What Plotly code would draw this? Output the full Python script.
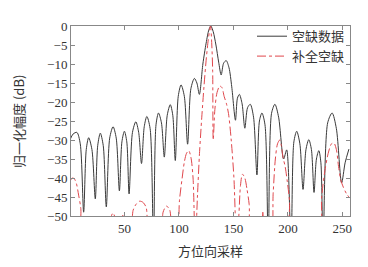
import plotly.graph_objects as go

# 空缺数据 (black solid)
gap_x = [0, 3, 6.4, 9.5, 12.6,
         15, 17.2, 20.2, 23.3,
         25.5, 27.9, 30.6, 33.4,
         36.5, 39.6, 42.5, 45.4,
         47.7, 50, 52.2, 54.3,
         57.4, 60.5, 63.1, 65.7,
         68.2, 70.6, 73.6, 76.7,
         79, 81.3, 84, 86.6,
         89.3, 92.1, 94.4, 96.7,
         99.4, 102, 105, 108,
         111, 114.2, 116.5, 118.8,
         122, 125, 127.5, 129.3, 131.5, 134, 136.5, 138.8,
         141, 143.4, 146, 148.5, 151.9,
         153.7, 155.5, 158, 160.5,
         163, 165.5, 168.5, 171.6,
         173.9, 176.2, 179, 182,
         185, 188.1, 191.5, 196.1,
         198.9, 202.9,
         205.5, 208.1, 211, 213.9,
         216.6, 219.2, 221.6, 224,
         226.2, 228.4, 230.3, 232.3,
         236.5, 240.6, 244.5, 249.3,
         252.5, 256]
gap_y = [-30, -28.4, -28, -31, -49,
         -32.5, -29.4, -32.5, -45.5,
         -31.5, -28.2, -31.5, -47.6,
         -29.5, -26.5, -29.5, -43.4,
         -30.5, -27.7, -30.5, -44.2,
         -28, -25.2, -28, -36.2,
         -26.5, -23.8, -27, -58,
         -26, -22.9, -25.5, -34.5,
         -23.5, -20.7, -23.5, -35.4,
         -18.5, -15.5, -18.5, -31.1,
         -16.5, -13.8, -15, -18,
         -10, -4.5, -1, 0, -1.5, -5, -9.5, -12.9,
         -9.8, -9.1, -11, -16, -24.8,
         -19, -18, -20.5, -26.9,
         -21.5, -20.6, -24, -39.2,
         -25, -22.9, -26, -58,
         -23, -20.6, -24, -35,
         -32.6, -58,
         -30.5, -27.7, -31, -43,
         -32.5, -29.9, -32.5, -43.8,
         -35, -32.8, -36, -58,
         -25.5, -22.9, -27, -41.3,
         -36, -32.4]

# 补全空缺 (red dash-dot)
fill_x = [0, 2, 4, 6, 8, 10, 12,
          35, 37.5, 39.5, 41.5, 44,
          46.5, 48.5, 50.5,
          55, 58, 61, 64, 67, 70, 73.5,
          83, 85.5, 88.5, 91.5, 95,
          98, 100.5, 103, 105, 107, 109, 111, 113, 115,
          117, 119, 121, 123, 125, 127, 129, 130.2, 131, 131.5,
          133, 135, 137.5, 139.5, 141.5, 143.5, 145.5, 148, 150.5, 153,
          155, 156.5, 158.3, 160.5, 162.5, 164.5, 166.5,
          175, 177, 179,
          184, 186.5, 188.5, 190.5, 192.5, 194, 195.5, 197.5, 199.5, 201.5, 203.5,
          228, 231, 234, 237, 240, 242.3, 244.5, 246.5, 248.5, 251, 253.5, 256]
fill_y = [-41, -40, -40.2, -41.5, -44.5, -48, -58,
          -58, -50.5, -49.2, -50.5, -58,
          -58, -49.8, -58,
          -58, -48.5, -46.8, -46.1, -46.4, -47.8, -58,
          -58, -49, -47.4, -48.3, -58,
          -58, -46, -40, -35.8, -33.5, -32.8, -34.5, -40, -58,
          -45, -33, -24, -16, -9, -3.5, 0, -5, -12, -30,
          -22, -17.5, -15.8, -16.2, -18.5, -20.3, -23, -30, -40, -58,
          -50, -42, -39, -40, -43, -47, -58,
          -58, -49, -58,
          -58, -44, -35, -31, -30, -31.5, -34.5, -37, -41, -46, -58,
          -58, -45, -38, -33.5, -31, -30.8, -32.5, -37, -40.5, -42.5, -44, -45]

x_ticks = [50, 100, 150, 200, 250]
y_ticks = [0, -5, -10, -15, -20, -25, -30, -35, -40, -45, -50]

names = ["空缺数据", "补全空缺"]
x_title = "方位向采样"
y_title = "归一化幅度 (dB)"

fig = go.Figure()
fig.add_trace(go.Scatter(x=gap_x, y=gap_y, mode="lines", name=names[0],
                         line=dict(color="#3a3a3a", width=1.0, shape="spline", smoothing=0.8)))
fig.add_trace(go.Scatter(x=fill_x, y=fill_y, mode="lines", name=names[1],
                         line=dict(color="#e0474c", width=1.0, dash="dashdot",
                                   shape="spline", smoothing=0.8)))

tick_font = dict(family="Liberation Serif", size=13, color="#333")
cjk = "Noto Sans CJK SC"

fig.update_layout(
    width=368, height=267,
    margin=dict(l=63, r=26, t=11, b=59),
    paper_bgcolor="white", plot_bgcolor="white",
    showlegend=True,
    legend=dict(x=1, xanchor="right", y=1.025, yanchor="top",
                bgcolor="rgba(0,0,0,0)", font=dict(family=cjk, size=13, color="#333"),
                itemwidth=30, tracegroupgap=0),
    xaxis=dict(range=[1, 257], tickvals=x_ticks, ticks="inside", ticklen=4,
               tickcolor="#888", showline=True, linecolor="#888", linewidth=1,
               mirror="allticks", showgrid=False, zeroline=False,
               tickfont=tick_font),
    yaxis=dict(range=[-50, 0], tickvals=y_ticks, ticks="inside", ticklen=4,
               tickcolor="#888", showline=True, linecolor="#888", linewidth=1,
               mirror="allticks", showgrid=False, zeroline=False,
               tickfont=tick_font),
    annotations=[
        dict(text=x_title, xref="paper", yref="paper", x=0.5, y=-0.183,
             xanchor="center", yanchor="middle", showarrow=False,
             font=dict(family=cjk, size=13, color="#333")),
        dict(text=y_title, xref="paper", yref="paper", x=-0.19, y=0.5,
             xanchor="center", yanchor="middle", showarrow=False, textangle=-90,
             font=dict(family=cjk, size=13, color="#333")),
    ],
)

fig.write_html("out.html")
